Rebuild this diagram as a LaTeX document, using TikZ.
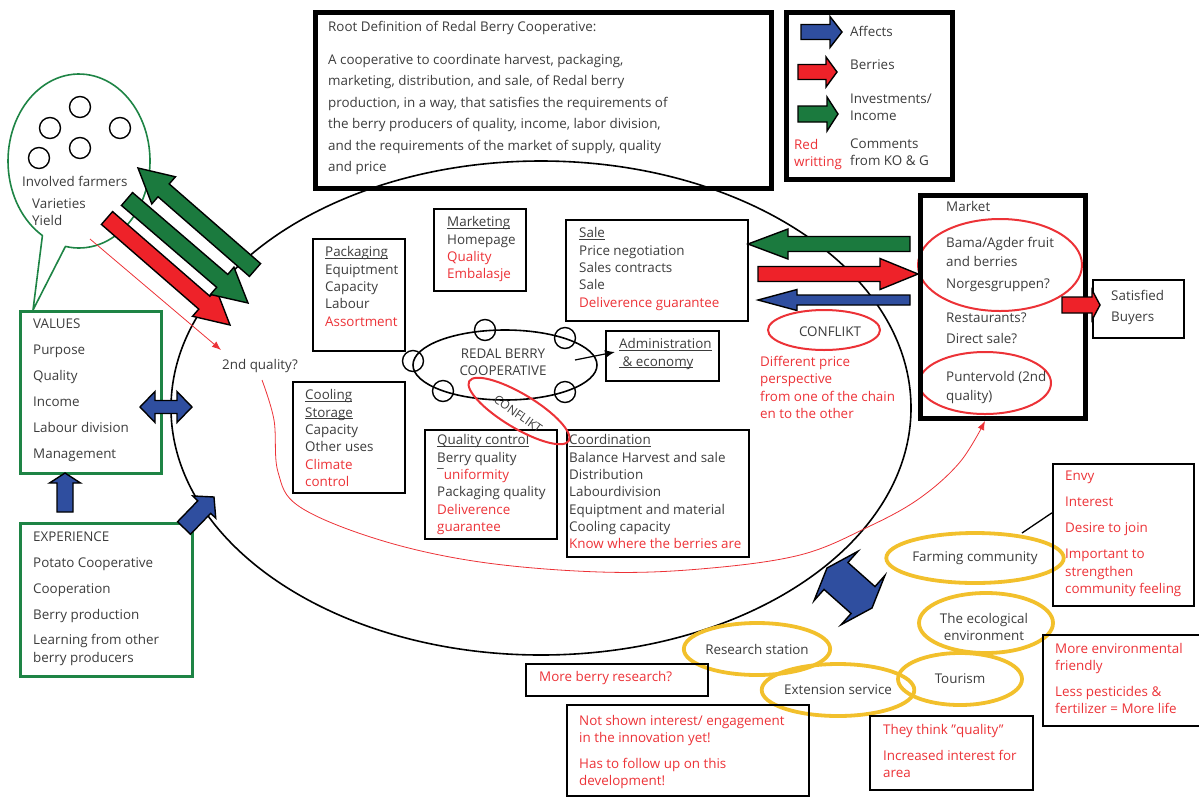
\documentclass[tikz,border=0pt]{standalone}
\usepackage{fontspec}
\setmainfont{Open Sans}
\usetikzlibrary{calc,arrows.meta,shapes.geometric}
\definecolor{dgray}{HTML}{3C3C3C}
\definecolor{rtxt}{HTML}{EC3237}
\definecolor{rfill}{HTML}{EE2229}
\definecolor{gfill}{HTML}{1B7A3E}
\definecolor{bfill}{HTML}{2F4E9F}
\definecolor{gline}{HTML}{1E8445}
\definecolor{yel}{HTML}{F2C02C}
\newcommand{\fsz}{\fontsize{13.4}{17.3}\selectfont}
\newcommand{\rt}[1]{\textcolor{rtxt}{#1}}
\newcommand{\ul}[1]{\underline{\smash{#1}\vphantom{A}}}
\newcommand{\bkarrow}[6]{%
 \coordinate (bkH) at ($(#3)!#6!(#2)$);
 \filldraw[fill=#1,draw=black,line width=1.4pt,line join=miter]
  ($(#2)!#4!90:(#3)$) -- ($(bkH)!#4!90:(#3)$) -- ($(bkH)!#5!90:(#3)$) -- (#3)
  -- ($(bkH)!#5!-90:(#3)$) -- ($(bkH)!#4!-90:(#3)$) -- ($(#2)!#4!-90:(#3)$) -- cycle;}
\newcommand{\dbarrow}[6]{%
 \coordinate (dbHa) at ($(#2)!#6!(#3)$);
 \coordinate (dbHb) at ($(#3)!#6!(#2)$);
 \filldraw[fill=#1,draw=black,line width=1.4pt,line join=miter]
  (#2) -- ($(dbHa)!#5!90:(#3)$) -- ($(dbHa)!#4!90:(#3)$) -- ($(dbHb)!#4!90:(#3)$)
  -- ($(dbHb)!#5!90:(#3)$) -- (#3) -- ($(dbHb)!#5!-90:(#3)$) -- ($(dbHb)!#4!-90:(#3)$)
  -- ($(dbHa)!#4!-90:(#3)$) -- ($(dbHa)!#5!-90:(#3)$) -- cycle;}
\newcommand{\rbx}[6]{\node[#6,inner sep=0pt,anchor=north west,minimum width={#4-#2},minimum height={#5-#3}] (#1) at (#2,#3) {};}
\begin{document}
\begin{tikzpicture}[x=1pt,y=-1pt,
 txt/.style={anchor=north west,inner sep=0pt,align=left,font=\fsz,text=dgray},
 bx/.style={draw=black,line width=1.6pt},
 tbx/.style={draw=black,line width=5pt},
 gbx/.style={draw=gline,line width=2.6pt},
 yl/.style={ellipse,draw=yel,line width=3.8pt,inner sep=0pt,align=center,font=\fsz,text=dgray},
 rel/.style={ellipse,draw=rtxt,line width=2pt,inner sep=0pt,align=center,font=\fsz,text=dgray},
 smc/.style={circle,draw=black,line width=1.4pt,minimum size=21pt,inner sep=0pt},
]
\useasboundingbox (0,0) rectangle (1199,796);
% big system ellipse
\node[ellipse,draw,line width=1.6pt,minimum width=740pt,minimum height=494pt,inner sep=0pt] (sys) at (541,408) {};
% root definition
\rbx{root}{313}{10}{769}{186}{tbx}
\node[txt] (roott) at (328,21) {Root Definition of Redal Berry Cooperative:};
\node[txt,font=\fontsize{13.4}{21.5}\selectfont] (rootb) at (328,54) {A cooperative to coordinate harvest, packaging,\\marketing, distribution, and sale, of Redal berry\\production, in a way, that satisfies the requirements of\\the berry producers of quality, income, labor division,\\and the requirements of the market of supply, quality\\and price};
% legend
\rbx{leg}{784}{10}{950}{177}{tbx}
\coordinate (lb1) at (801,32); \coordinate (lb2) at (842,32);
\coordinate (lr1) at (798,72); \coordinate (lr2) at (837,72);
\coordinate (lg1) at (798,114); \coordinate (lg2) at (838,114);
\bkarrow{bfill}{lb1}{lb2}{7.5pt}{15.5pt}{12pt}
\bkarrow{rfill}{lr1}{lr2}{7.5pt}{15pt}{11pt}
\bkarrow{gfill}{lg1}{lg2}{8pt}{17pt}{11pt}
\node[txt] (la) at (850,26) {Affects};
\node[txt] (lbr) at (850,59) {Berries};
\node[txt,font=\fontsize{13.4}{16.5}\selectfont] (li) at (850,94) {Investments/\\Income};
\node[txt,font=\fontsize{13.4}{17}\selectfont] (lc) at (850,139) {Comments\\from KO \& G};
\node[txt,text=rtxt,font=\fontsize{13.4}{17}\selectfont] (lrw) at (794,139) {Red\\writting};
% speech bubble
\coordinate (tailtip) at (33,310);
\draw[gline,line width=1.6pt,line join=round] (tailtip) -- plot[domain=121:461,samples=100] ({79+71*cos(\x)},{161+87*sin(\x)}) -- cycle;
\node[smc] (c1) at (80,107) {};
\node[smc] (c2) at (50,128) {};
\node[smc] (c3) at (120,128) {};
\node[smc] (c4) at (80,148) {};
\node[smc] (c5) at (39,158) {};
\node[txt] (invf) at (22,176) {Involved farmers};
\node[txt] (vy) at (32,198) {Varieties\\Yield};
% values / experience
\rbx{values}{19}{310}{160}{472}{gbx}
\node[txt] (valt) at (33,319) {VALUES\\[8.7pt]Purpose\\[8.7pt]Quality\\[8.7pt]Income\\[8.7pt]Labour division\\[8.7pt]Management};
\rbx{exp}{19}{522}{191}{675}{gbx}
\node[txt] (expt) at (33,532) {EXPERIENCE\\[8.4pt]Potato Cooperative\\[8.4pt]Cooperation\\[8.4pt]Berry production\\[8.4pt]Learning from other\\berry producers};
% blue arrows left
\coordinate (bu1) at (65,512); \coordinate (bu2) at (65,473);
\bkarrow{bfill}{bu1}{bu2}{8pt}{15.5pt}{10pt}
\coordinate (bh1) at (140,407); \coordinate (bh2) at (192,407);
\dbarrow{bfill}{bh1}{bh2}{6.5pt}{15.5pt}{15pt}
\coordinate (bd1) at (184,528); \coordinate (bd2) at (214,497);
\bkarrow{bfill}{bd1}{bd2}{9pt}{16pt}{14pt}
% 2nd quality
\node[txt] (q2) at (222,359) {2nd quality?};
\coordinate (bbot) at (90,239); \coordinate (q2tip) at (221,350);
\draw[rtxt,line width=0.8pt,-{Latex[length=9pt,width=7pt]}] (bbot) -- (q2tip);
% big diagonal arrows
\coordinate (ra1) at (107,218); \coordinate (ra2) at (230,325);
\coordinate (ga1) at (127,199); \coordinate (ga2) at (248,303);
\coordinate (gb1) at (255,270); \coordinate (gb2) at (138,168);
\bkarrow{rfill}{ra1}{ra2}{8.5pt}{18pt}{34pt}
\bkarrow{gfill}{ga1}{ga2}{8.5pt}{18pt}{34pt}
\bkarrow{gfill}{gb1}{gb2}{8.5pt}{18pt}{34pt}
% inner boxes
\rbx{pack}{312}{238}{404}{350}{bx}
\node[txt] (packt) at (325,247) {\ul{Packaging}\\Equiptment\\Capacity\\Labour\\\rt{Assortment}};
\rbx{mkt}{433}{208}{525}{290}{bx}
\node[txt] (mktt) at (447,217) {\ul{Marketing}\\Homepage\\\rt{Quality}\\\rt{Embalasje}};
\rbx{sale}{565}{219}{747}{320}{bx}
\node[txt] (salet) at (579,228) {\ul{Sale}\\Price negotiation\\Sales contracts\\Sale\\\rt{Deliverence guarantee}};
\rbx{cool}{292}{381}{404}{492}{bx}
\node[txt] (coolt) at (305,390) {\ul{Cooling}\\\ul{Storage}\\Capacity\\Other uses\\\rt{Climate}\\\rt{control}};
\rbx{qc}{424}{429}{556}{538}{bx}
\node[txt] (qct) at (437,435) {\ul{Quality control}\\Berry quality\\¯\rt{uniformity}\\Packaging quality\\\rt{Deliverence}\\\rt{guarantee}};
\rbx{coord}{566}{429}{748}{556}{bx}
\node[txt] (coordt) at (569,435) {\ul{Coordination}\\Balance Harvest and sale\\Distribution\\Labourdivision\\Equiptment and material\\Cooling capacity\\\rt{Know where the berries are}};
\rbx{adm}{605}{330}{718}{380}{bx}
\node[txt] (admt) at (619,339) {\ul{Administration}\\\ul{\ \& economy}};
% redal berry cooperative
\node[ellipse,draw,line width=1.6pt,minimum width=184pt,minimum height=70pt,inner sep=0pt] (rbc) at (505,365) {};
\node[align=center,font=\fsz,text=dgray,inner sep=0pt] (rbct) at (503,362) {REDAL BERRY\\COOPERATIVE};
\node[smc] (s1) at (485,330) {};
\node[smc] (s2) at (565,338) {};
\node[smc] (s3) at (413,361) {};
\node[smc] (s4) at (443,391) {};
\node[smc] (s5) at (565,392) {};
\coordinate (rbcr) at (575,360); \coordinate (admin) at (615,352);
\draw[line width=1.2pt,-{Latex[length=10pt,width=8pt]}] (rbcr) -- (admin);
\node[rel,minimum width=116pt,minimum height=34pt,rotate=-31] (cf1) at (519,411) {};
\node[rotate=-35,font=\fontsize{12}{14}\selectfont,text=dgray,inner sep=0pt] (cf1t) at (518,414) {CONFLIKT};
% right arrows
\coordinate (gr1) at (910,244); \coordinate (gr2) at (748,244);
\coordinate (rr1) at (758,274); \coordinate (rr2) at (918,274);
\coordinate (br1) at (910,300); \coordinate (br2) at (758,300);
\bkarrow{gfill}{gr1}{gr2}{7.5pt}{15pt}{40pt}
\bkarrow{rfill}{rr1}{rr2}{7.5pt}{15.5pt}{38pt}
\bkarrow{bfill}{br1}{br2}{5pt}{10.5pt}{39pt}
\node[rel,minimum width=112pt,minimum height=40pt] (cf2) at (824,330) {};
\node[font=\fsz,text=dgray,inner sep=0pt] (cf2t) at (830,332) {CONFLIKT};
\node[txt,text=rtxt] (dpp) at (760,356) {Different price\\perspective\\from one of the chain\\en to the other};
% market
\node[rel,minimum width=164pt,minimum height=92pt] (bama) at (1000,265) {};
\node[rel,minimum width=132pt,minimum height=62pt] (punt) at (985,383) {};
\rbx{mark}{918}{193}{1083}{416}{tbx}
\node[txt] (mk1) at (946,201) {Market};
\node[txt,font=\fontsize{13.4}{19}\selectfont] (mk2) at (946,237) {Bama/Agder fruit\\and berries};
\node[txt] (mk3) at (946,279) {Norgesgruppen?};
\node[txt,font=\fontsize{13.4}{21}\selectfont] (mk4) at (946,313) {Restaurants?\\Direct sale?};
\node[txt,font=\fontsize{13.4}{19}\selectfont] (mk5) at (946,371) {Puntervold (2nd\\quality)};
\rbx{sat}{1092}{279}{1183}{337}{bx}
\node[txt,font=\fontsize{13.4}{21}\selectfont] (satt) at (1111,290) {Satisfied\\Buyers};
\coordinate (ms1) at (1062,305); \coordinate (ms2) at (1100,305);
\bkarrow{rfill}{ms1}{ms2}{8pt}{15pt}{8pt}
% red curve
\coordinate (q2b) at (262,380); \coordinate (puntb) at (985,421);
\draw[rtxt,line width=0.8pt,-{Latex[length=9pt,width=7pt]}] plot[smooth,tension=0.6] coordinates {(q2b) (274,420) (278,472) (300,507) (380,540) (480,562) (600,572) (700,569) (800,555) (870,526) (920,498) (960,462) (puntb)};
% bottom environment
\coordinate (bx1) at (827,568); \coordinate (bx2) at (872,608);
\dbarrow{bfill}{bx1}{bx2}{18pt}{33pt}{12pt}
\node[yl,minimum width=144pt,minimum height=50pt] (farm) at (975,558) {Farming community};
\node[yl,minimum width=134pt,minimum height=60pt] (eco) at (986,623) {};
\node[align=center,font=\fsz,text=dgray,inner sep=0pt] (ecot) at (984,627) {The ecological\\environment};
\node[yl,minimum width=124pt,minimum height=52pt] (tour) at (960,679) {Tourism};
\node[yl,minimum width=126pt,minimum height=52pt] (rs) at (757,649) {Research station};
\node[yl,minimum width=122pt,minimum height=52pt] (ext) at (838,690) {Extension service};
\rbx{env}{1052}{463}{1193}{605}{bx}
\node[txt,text=rtxt] (envt) at (1065,471) {Envy\\[8.7pt]Interest\\[8.7pt]Desire to join\\[8.7pt]Important to\\strengthen\\community feeling};
\coordinate (fc) at (1022,533);
\draw[line width=1.3pt] (fc) -- ([yshift=22pt]env.west);
\rbx{menv}{1042}{634}{1212}{725}{bx}
\node[txt,text=rtxt] (menvt) at (1055,643) {More environmental\\friendly\\[8.7pt]Less pesticides \&\\fertilizer = More life};
\rbx{tt}{869}{715}{1032}{789}{bx}
\node[txt,text=rtxt] (ttt) at (883,724) {They think ”quality”\\[8.7pt]Increased interest for\\area};
\rbx{mbr}{525}{663}{707}{695}{bx}
\node[txt,text=rtxt] (mbrt) at (539,671) {More berry research?};
\rbx{ns}{566}{704}{808}{795}{bx}
\node[txt,text=rtxt] (nst) at (579,715) {Not shown interest/ engagement\\in the innovation yet!\\[8.7pt]Has to follow up on this\\development!};
\end{tikzpicture}
\end{document}
